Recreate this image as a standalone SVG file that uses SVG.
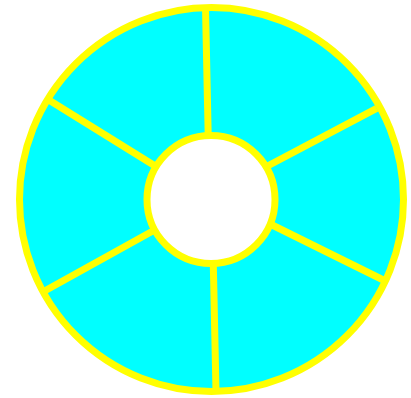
<svg xmlns="http://www.w3.org/2000/svg" width="411" height="398" viewBox="0 0 411 398">
<style>
.ring{fill:#00ffff;stroke:#ffff00;stroke-width:7}
.hole{fill:#ffffff;stroke:#ffff00;stroke-width:7}
.div{stroke:#ffff00;stroke-width:7;stroke-linecap:butt;fill:none}
</style>
<rect width="411" height="398" fill="#ffffff"/>
<g id="outer"><circle class="ring" cx="211.5" cy="199.5" r="192"/></g>
<g id="dividers">
<line class="div" x1="208.5" y1="150" x2="205.5" y2="7.5"/>
<line class="div" x1="260" y1="170" x2="376.7" y2="108.3"/>
<line class="div" x1="260" y1="219" x2="383.3" y2="280"/>
<line class="div" x1="213" y1="250" x2="216" y2="391.5"/>
<line class="div" x1="160" y1="227" x2="45" y2="290.7"/>
<line class="div" x1="160" y1="169" x2="50" y2="100.7"/>
</g>
<g id="inner"><circle class="hole" cx="211" cy="199.5" r="64"/></g>
</svg>
